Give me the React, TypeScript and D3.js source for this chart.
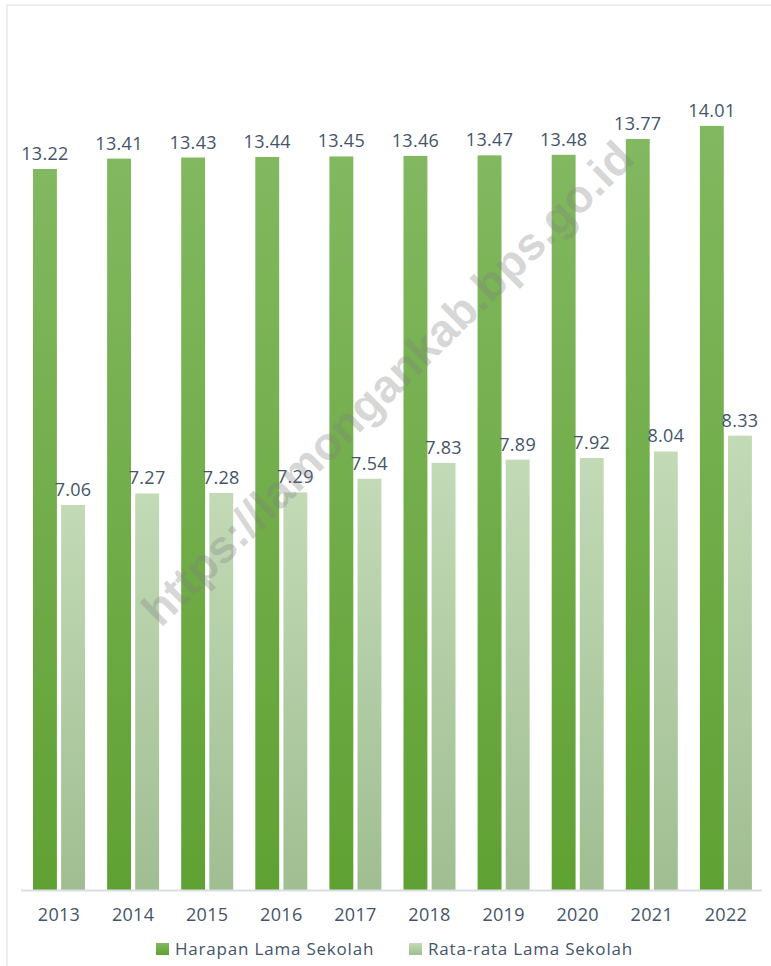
import React from "react";
import * as d3 from "d3";

const years = ["2013", "2014", "2015", "2016", "2017", "2018", "2019", "2020", "2021", "2022"];
const harapanLamaSekolah = [13.22, 13.41, 13.43, 13.44, 13.45, 13.46, 13.47, 13.48, 13.77, 14.01];
const rataRataLamaSekolah = [7.06, 7.27, 7.28, 7.29, 7.54, 7.83, 7.89, 7.92, 8.04, 8.33];
const seriesNames = ["Harapan Lama Sekolah", "Rata-rata Lama Sekolah"];
const watermark = "https://lamongankab.bps.go.id";

const W = 771;
const H = 966;
const FONT = "'Open Sans', 'Noto Sans', sans-serif";
const TEXT = "#44546a";

export default function App() {
  const baseY = 890;
  const x0 = d3.scaleBand<string>().domain(years).range([21, 762]).padding(0);
  const x1 = d3.scaleBand<string>().domain(seriesNames).range([12, 64]).paddingInner(0.15).paddingOuter(0);
  const y = d3.scaleLinear().domain([0, 16]).range([baseY, baseY - 16 * 54.54]);
  const fills = ["url(#gDark)", "url(#gLight)"];
  const values = [harapanLamaSekolah, rataRataLamaSekolah];
  const groupCenter = 38;
  const legendX = [156, 409];

  return (
    <div style={{ position: "absolute", left: 0, top: 0, width: W, height: H, background: "#fff" }}>
      <svg width={W} height={H} style={{ display: "block" }}>
        <defs>
          <linearGradient id="gDark" x1="0" y1="0" x2="0" y2="1">
            <stop offset="0" stopColor="#82b860" />
            <stop offset="1" stopColor="#60a133" />
          </linearGradient>
          <linearGradient id="gLight" x1="0" y1="0" x2="0" y2="1">
            <stop offset="0" stopColor="#c2dab6" />
            <stop offset="1" stopColor="#a0be92" />
          </linearGradient>
        </defs>
        <rect x={0} y={0} width={W} height={H} fill="#fff" />
        <line x1={6} x2={W} y1={5} y2={5} stroke="#eceef1" strokeWidth={2} />
        <line x1={7} x2={7} y1={4} y2={H} stroke="#eceef1" strokeWidth={2} />

        {years.map((yr, i) => (
          <g key={yr} transform={`translate(${x0(yr)},0)`}>
            {seriesNames.map((s, k) => {
              const v = values[k][i];
              const bx = x1(s) as number;
              const bw = x1.bandwidth();
              return (
                <g key={s}>
                  <rect x={bx} y={y(v)} width={bw} height={baseY - y(v)} fill={fills[k]} />
                  <text
                    x={bx + bw / 2}
                    y={y(v) - 9}
                    textAnchor="middle"
                    fontFamily={FONT}
                    fontSize={18}
                    letterSpacing={0.3}
                    fill={TEXT}
                  >
                    {v.toFixed(2)}
                  </text>
                </g>
              );
            })}
            <text x={groupCenter} y={921} textAnchor="middle" fontFamily={FONT} fontSize={18} letterSpacing={0.3} fill={TEXT}>
              {yr}
            </text>
          </g>
        ))}

        <line x1={21} x2={762} y1={890.5} y2={890.5} stroke="#d9dde3" strokeWidth={2} />

        <text
          transform="translate(390,386) rotate(-44.5)"
          textAnchor="middle"
          dominantBaseline="middle"
          fontFamily="'Liberation Sans', Arial, sans-serif"
          fontWeight="bold"
          fontSize={46}
          fill="#808080"
          fillOpacity={0.33}
        >
          {watermark}
        </text>

        {seriesNames.map((s, k) => (
          <g key={s}>
            <rect x={legendX[k]} y={943} width={13} height={12} fill={fills[k]} />
            <text x={legendX[k] + 19} y={955} fontFamily={FONT} fontSize={17} letterSpacing={0.8} fill={TEXT}>
              {s}
            </text>
          </g>
        ))}
      </svg>
    </div>
  );
}
